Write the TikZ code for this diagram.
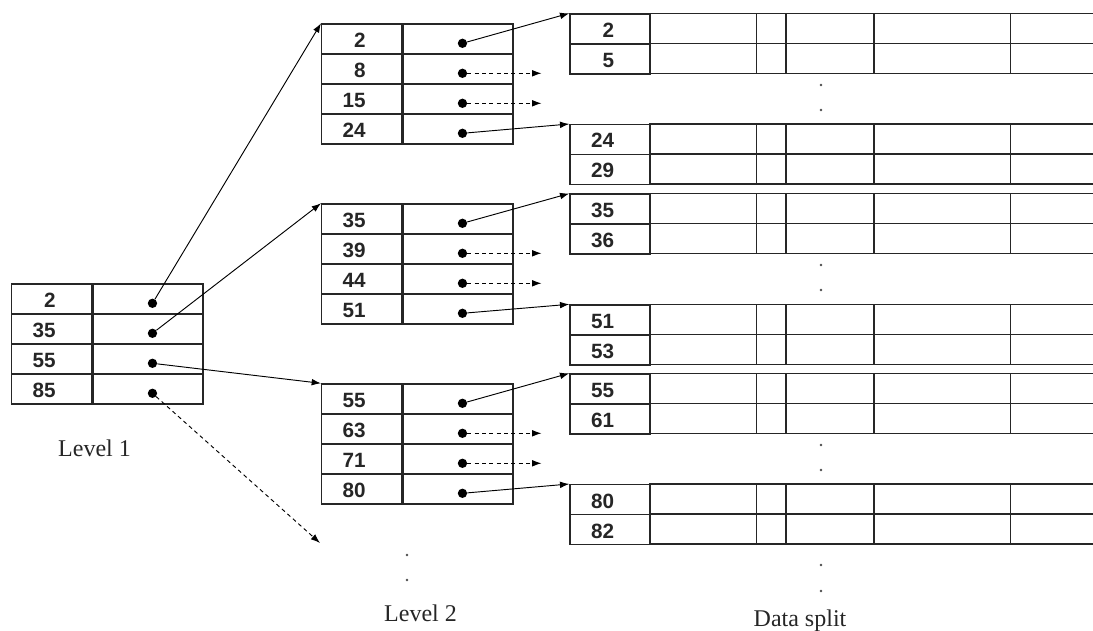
\documentclass[tikz,border=0pt]{standalone}
\usepackage{fontspec}
\setmainfont{Liberation Serif}
\newfontfamily\keyfont{Liberation Sans}
\usetikzlibrary{arrows.meta}

\tikzset{
  cellbox/.style={draw=black!85, line width=1.1pt, rectangle, inner sep=0pt,
                  anchor=north west, minimum height=22.5pt},
  keybox/.style={cellbox, minimum width=60pt},
  ptrbox/.style={cellbox, minimum width=82.5pt},
  keytext/.style={font=\keyfont\bfseries\fontsize{15.5}{15.5}\selectfont,
                  text=black!85, inner sep=0pt, anchor=base east},
  ptrdot/.style={circle, fill=black, inner sep=0pt, minimum size=7pt},
  ellipsisdot/.style={circle, fill=black!70, inner sep=0pt, minimum size=2.2pt},
  gridline/.style={draw=black!85, line width=1.1pt},
  link/.style={-{Latex[length=7pt,width=5pt]}, line width=0.7pt},
  stub/.style={link, dash pattern=on 3pt off 2.5pt},
  caption/.style={font=\fontsize{18}{20}\selectfont, text=black!85, anchor=base},
}

% index block: name, left x, top y, list of four keys
\newcommand\indextable[4]{%
  \foreach \k [count=\i] in {#4} {
    \node[keybox] (#1k\i) at (#2,{#3+30*(\i-1)}) {};
    \node[ptrbox] (#1p\i) at (#1k\i.north east) {};
    \node[keytext] (#1t\i) at ([shift={(45,24)}]#1k\i.north west) {\k};
    \node[ptrdot] (#1d\i) at ([shift={(60,20)}]#1p\i.north west) {};
  }%
}

% data block: name, left x, top y, list of two keys
\newcommand\datatable[4]{%
  \foreach \k [count=\i] in {#4} {
    \node[keybox] (#1k\i) at (#2,{#3+30*(\i-1)}) {};
    \node[keytext] (#1t\i) at ([shift={(45,24)}]#1k\i.north west) {\k};
  }%
  \foreach \dx in {187.4,216.7,304.7,441.4}
    \draw[gridline] ({#2+\dx},#3) -- ({#2+\dx},{#3+60});
  \foreach \dy in {0,30,60}
    \draw[gridline] ({#2+80},{#3+\dy}) -- (1093,{#3+\dy});
}

\begin{document}
\begin{tikzpicture}[x=0.75pt, y=-0.75pt]
\useasboundingbox (0,0) rectangle (1093,631);

% level 1
\indextable{A}{11}{283.3}{2,35,55,85}
% level 2
\indextable{B}{321}{23.3}{2,8,15,24}
\indextable{C}{321}{203.3}{35,39,44,51}
\indextable{D}{321}{383.3}{55,63,71,80}

% data split
\datatable{P}{569.3}{13.3}{2,5}
\datatable{Q}{569.3}{124}{24,29}
\datatable{R}{569.3}{193.5}{35,36}
\datatable{S}{569.3}{304.3}{51,53}
\datatable{T}{569.3}{373.3}{55,61}
\datatable{U}{569.3}{484}{80,82}

% level 1 -> level 2
\draw[link] (Ad1) -- (Bk1.north west);
\draw[link] (Ad2) -- (Ck1.north west);
\draw[link] (Ad3) -- (Dk1.north west);
\coordinate (Aend) at (320,543);
\draw[stub] (Ad4) -- (Aend);

% level 2 -> data split
\draw[link] (Bd1) -- (Pk1.north west);
\draw[link] (Bd4) -- (Qk1.north west);
\draw[link] (Cd1) -- (Rk1.north west);
\draw[link] (Cd4) -- (Sk1.north west);
\draw[link] (Dd1) -- (Tk1.north west);
\draw[link] (Dd4) -- (Uk1.north west);

% pointers leading to omitted blocks
\foreach \blk in {B,C,D}
  \foreach \r in {2,3} {
    \coordinate (\blk e\r) at ([shift={(79,0)}]\blk d\r.center);
    \draw[stub] (\blk d\r) -- (\blk e\r);
  }

% vertical ellipses
\foreach \yy [count=\n] in {85,110,265,290,445,470,565,591}
  \node[ellipsisdot] (vd\n) at (821,\yy) {};
\node[ellipsisdot] (lv2a) at (407,555) {};
\node[ellipsisdot] (lv2b) at (407,580) {};

% captions
\node[caption] (cap1) at (94.5,456) {Level 1};
\node[caption] (cap2) at (420.5,621) {Level 2};
\node[caption] (cap3) at (800,626) {Data split};
\end{tikzpicture}
\end{document}
